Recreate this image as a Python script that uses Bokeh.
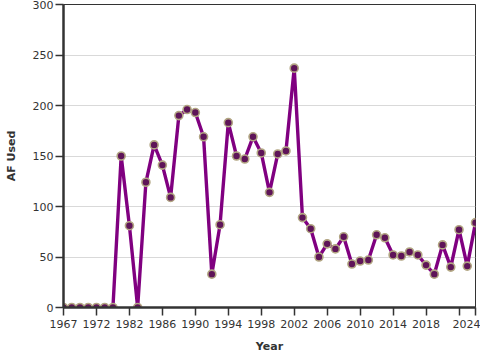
from bokeh.plotting import figure
from bokeh.models import ColumnDataSource, FixedTicker, Range1d
from bokeh.embed import file_html
from bokeh.resources import INLINE

years = [1967, 1968, 1969, 1971, 1972, 1973, 1976, 1981,
         1982, 1983, 1984, 1985, 1986, 1987, 1988, 1989, 1990, 1991, 1992, 1993,
         1994, 1995, 1996, 1997, 1998, 1999, 2000, 2001, 2002, 2003, 2004, 2005,
         2006, 2007, 2008, 2009, 2010, 2011, 2012, 2013, 2014, 2015, 2016, 2017,
         2018, 2019, 2020, 2021, 2022, 2023, 2024]
af_used = [0, 0, 0, 0, 0, 0, 0, 150,
           81, 0, 124, 161, 141, 109, 190, 196, 193, 169, 33, 82,
           183, 150, 147, 169, 153, 114, 152, 155, 237, 89, 78, 50,
           63, 58, 70, 43, 46, 47, 72, 69, 52, 51, 55, 52,
           42, 33, 62, 40, 77, 41, 84]
y_ticks = [0, 50, 100, 150, 200, 250, 300]

idx = list(range(len(years)))
src = ColumnDataSource(dict(i=idx, year=years, v=af_used))
last = len(years) - 1

p = figure(width=480, height=360, output_backend="svg", toolbar_location=None,
           x_range=Range1d(0, last), y_range=Range1d(0, 300),
           min_border_left=63, min_border_right=5, min_border_top=4, min_border_bottom=53)

p.background_fill_color = "white"
p.border_fill_color = "white"
p.outline_line_color = "#333333"
p.outline_line_width = 1

p.line("i", "v", source=src, line_color="#800080", line_width=3.4)
p.scatter("i", "v", source=src, size=8, fill_color="#5e1458",
          line_color="#b2a683", line_width=1.6)

tick_idx = list(range(0, last, 4)) + [last]
labels = {t: str(years[t]) for t in tick_idx}
labels[48] = ""
p.xaxis.ticker = FixedTicker(ticks=tick_idx)
p.xaxis.major_label_overrides = labels
p.yaxis.ticker = FixedTicker(ticks=y_ticks)

p.xgrid.grid_line_color = None
p.ygrid.grid_line_color = "#d9d9d9"
p.ygrid.grid_line_width = 1

p.xaxis.axis_label = "Year"
p.yaxis.axis_label = "AF Used"

for ax in (p.xaxis, p.yaxis):
    ax.axis_line_color = "#333333"
    ax.axis_line_width = 2.5
    ax.major_tick_line_color = "#333333"
    ax.major_tick_line_width = 1.5
    ax.major_tick_out = 8
    ax.major_tick_in = 0
    ax.minor_tick_line_color = None
    ax.major_label_text_font = "DejaVu Sans"
    ax.major_label_text_font_size = "11px"
    ax.major_label_text_color = "#333333"
    ax.axis_label_text_font = "DejaVu Sans"
    ax.axis_label_text_font_size = "11px"
    ax.axis_label_text_font_style = "bold"
    ax.axis_label_text_color = "#333333"

p.xaxis.major_label_standoff = 4
p.xaxis.axis_label_standoff = 9
p.yaxis.major_label_standoff = 2
p.yaxis.axis_label_standoff = 12

open("out.html", "w").write(file_html(p, INLINE))
